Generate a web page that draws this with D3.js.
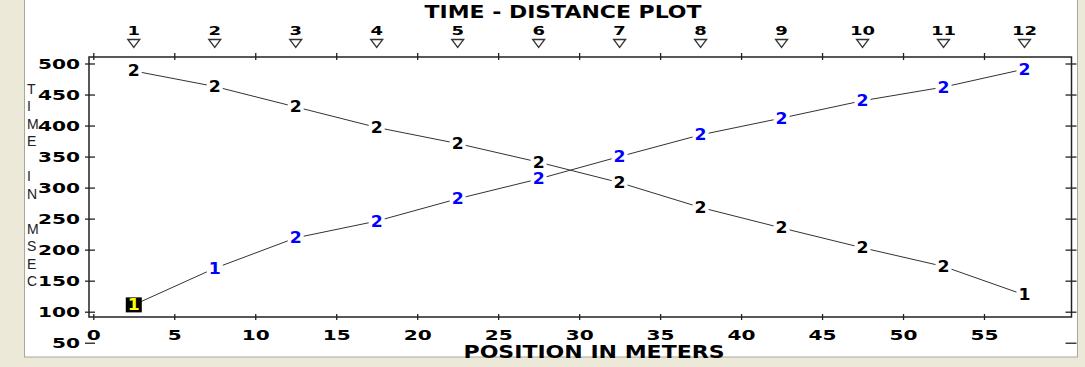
<!DOCTYPE html>
<html>
<head>
<meta charset="utf-8">
<script src="https://cdn.jsdelivr.net/npm/d3@7"></script>
<style>
body { margin: 0; background: #ECE9D8; overflow: hidden; }
</style>
</head>
<body>
<div id="chart"></div>
<script>
var chart_width  = 1085;
var chart_height = 367;

// shot numbers along the top and their positions
var shots     = [1, 2, 3, 4, 5, 6, 7, 8, 9, 10, 11, 12];
var positions = [2.5, 7.5, 12.5, 17.5, 22.5, 27.5, 32.5, 37.5, 42.5, 47.5, 52.5, 57.5];

// first arrivals, shot at the far end (black labels)
var times_rev  = [488, 463, 430, 397, 371, 341, 308, 268, 235, 203, 173, 127];
var marks_rev  = ['2', '2', '2', '2', '2', '2', '2', '2', '2', '2', '2', '1'];
// first arrivals, shot at the near end (blue labels)
var times_fwd  = [111, 170, 219, 246, 282, 314, 350, 385, 412, 440, 462, 491];
var marks_fwd  = ['1', '1', '2', '2', '2', '2', '2', '2', '2', '2', '2', '2'];

var x_ticks = [0, 5, 10, 15, 20, 25, 30, 35, 40, 45, 50, 55];
var y_ticks = [50, 100, 150, 200, 250, 300, 350, 400, 450, 500];

var title   = 'TIME - DISTANCE PLOT';
var x_title = 'POSITION IN METERS';
var y_title = 'TIME IN MSEC';

var frame = {left: 89, top: 57, right: 1071.5, bottom: 317};
var bold_font = '"DejaVu Sans", Verdana, sans-serif';

var svg = d3.select('#chart')
    .append('svg')
    .attr('width', chart_width)
    .attr('height', chart_height);

// window panel
svg.append('rect')
    .attr('x', 0).attr('y', 0)
    .attr('width', chart_width).attr('height', chart_height)
    .attr('fill', '#ECE9D8');
svg.append('rect')
    .attr('x', 24.5).attr('y', -2)
    .attr('width', 1053).attr('height', 359)
    .attr('fill', '#fff')
    .attr('stroke', '#A7A6A0');

// scales
const x_scale = d3.scaleLinear()
    .domain([0, 55])
    .range([93.3, 984]);

const y_scale = d3.scaleLinear()
    .domain([100, 500])
    .range([311.7, 63.5]);

// frame
svg.append('rect')
    .attr('x', frame.left).attr('y', frame.top)
    .attr('width', frame.right - frame.left)
    .attr('height', frame.bottom - frame.top)
    .attr('fill', 'none')
    .attr('stroke', '#222')
    .attr('stroke-width', 1.5);

// wide bold digits, stretched to the old screen font width
function styleDigits(sel, size, adv, txt) {
    txt = txt || (d => String(d));
    sel.attr('font-family', bold_font)
        .attr('font-weight', 'bold')
        .attr('font-size', size)
        .attr('fill', '#000')
        .attr('textLength', d => txt(d).length * adv)
        .attr('lengthAdjust', 'spacingAndGlyphs');
}

// left axis
var y_axis = d3.axisLeft(y_scale).tickValues(y_ticks).tickSizeOuter(0);
var gy = svg.append('g')
    .attr('transform', `translate(${frame.left}, 0)`)
    .call(y_axis);
gy.select('.domain').remove();
gy.selectAll('.tick line').attr('x1', 6).attr('x2', -4).attr('stroke', '#222').attr('stroke-width', 1.3);
gy.selectAll('.tick text').attr('x', -9).attr('dy', '0.36em').call(styleDigits, 14, 14);

// right axis, ticks only
var gr = svg.append('g')
    .attr('transform', `translate(${frame.right}, 0)`)
    .call(d3.axisRight(y_scale).tickValues(y_ticks).tickFormat(''));
gr.select('.domain').remove();
gr.selectAll('.tick line').attr('x1', -6).attr('x2', 5).attr('stroke', '#222').attr('stroke-width', 1.3);

// bottom axis
var gx = svg.append('g')
    .attr('transform', `translate(0, ${frame.bottom})`)
    .call(d3.axisBottom(x_scale).tickValues(x_ticks));
gx.select('.domain').remove();
gx.selectAll('.tick line').attr('y1', -3).attr('y2', 3).attr('stroke', '#222').attr('stroke-width', 1.3);
gx.selectAll('.tick text').attr('y', 13).attr('dy', '0.71em').call(styleDigits, 14, 14);

// top axis, ticks only
var gt = svg.append('g')
    .attr('transform', `translate(0, ${frame.top})`)
    .call(d3.axisTop(x_scale).tickValues(x_ticks).tickFormat(''));
gt.select('.domain').remove();
gt.selectAll('.tick line').attr('y1', 3).attr('y2', -4).attr('stroke', '#222').attr('stroke-width', 1.3);

// shot markers
var shot_data = shots.map((s, i) => ({shot: s, pos: positions[i]}));
svg.append('g').selectAll('text')
    .data(shot_data)
    .enter()
    .append('text')
    .attr('x', d => x_scale(d.pos))
    .attr('y', 35)
    .attr('text-anchor', 'middle')
    .text(d => d.shot)
    .call(styleDigits, 13, 12.5, d => String(d.shot));
svg.append('g').selectAll('path')
    .data(shot_data)
    .enter()
    .append('path')
    .attr('d', d => {
        var cx = x_scale(d.pos);
        return `M${cx - 6},39.5 L${cx + 6},39.5 L${cx},47.5 Z`;
    })
    .attr('fill', '#fff')
    .attr('stroke', '#333')
    .attr('stroke-width', 1.3);

// titles
svg.append('text')
    .attr('x', 563).attr('y', 18.3)
    .attr('text-anchor', 'middle')
    .attr('font-family', bold_font).attr('font-weight', 'bold').attr('font-size', 17)
    .attr('textLength', 277).attr('lengthAdjust', 'spacingAndGlyphs')
    .text(title);
svg.append('text')
    .attr('x', 594).attr('y', 358.3)
    .attr('text-anchor', 'middle')
    .attr('font-family', bold_font).attr('font-weight', 'bold').attr('font-size', 17)
    .attr('textLength', 261).attr('lengthAdjust', 'spacingAndGlyphs')
    .text(x_title);
svg.append('g').selectAll('text')
    .data(y_title.split(''))
    .enter()
    .append('text')
    .attr('x', 27)
    .attr('y', (d, i) => 93.5 + i * 17.5)
    .attr('font-family', '"Liberation Sans", Arial, sans-serif')
    .attr('font-size', 14)
    .attr('fill', '#222')
    .text(d => d);

// travel time curves
var series = [
    {times: times_rev, marks: marks_rev, color: '#000'},
    {times: times_fwd, marks: marks_fwd, color: '#0000FF'}
];
var line = d3.line()
    .x(d => x_scale(d.pos))
    .y(d => y_scale(d.t));

series.forEach(s => {
    var pts = positions.map((p, i) => ({pos: p, t: s.times[i], mark: s.marks[i]}));
    svg.append('path')
        .datum(pts)
        .attr('d', line)
        .attr('fill', 'none')
        .attr('stroke', '#333')
        .attr('stroke-width', 1);

    var g = svg.append('g').selectAll('g')
        .data(pts)
        .enter()
        .append('g')
        .attr('transform', d => `translate(${x_scale(d.pos)}, ${y_scale(d.t)})`);
    g.append('rect')
        .attr('x', -8).attr('y', -7.5)
        .attr('width', 16).attr('height', 15)
        .attr('fill', (d, i) => (s.color !== '#000' && i === 0) ? '#000' : '#fff');
    g.append('text')
        .attr('text-anchor', 'middle')
        .attr('y', 5.5)
        .attr('font-family', bold_font)
        .attr('font-weight', 'bold')
        .attr('font-size', 15)
        .attr('textLength', 12)
        .attr('lengthAdjust', 'spacingAndGlyphs')
        .attr('fill', (d, i) => (s.color !== '#000' && i === 0) ? '#FFFF00' : s.color)
        .text(d => d.mark);
});
</script>
</body>
</html>
